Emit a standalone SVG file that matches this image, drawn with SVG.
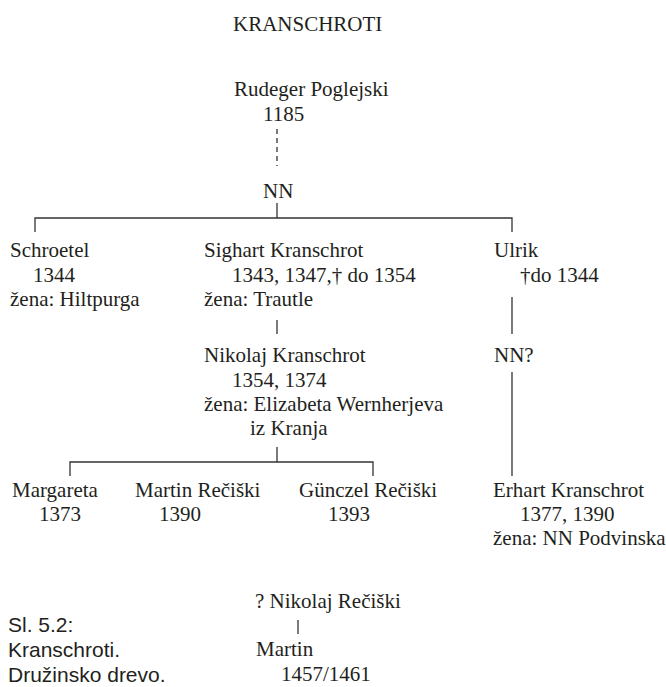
<svg xmlns="http://www.w3.org/2000/svg" width="666" height="687" viewBox="0 0 666 687">
<style>
text{font-family:"Liberation Serif","Times New Roman",serif;font-size:21px;fill:#231f20}
.cap{font-family:"Liberation Sans",Arial,sans-serif;font-size:21px;fill:#231f20}
.ln{stroke:#333;stroke-width:1.3;fill:none}
.dash{stroke-dasharray:5 4}
</style>
<rect width="666" height="687" fill="#fff"/>
<text id="title" x="233" y="31">KRANSCHROTI</text>
<g id="connectors">
<line class="ln dash" x1="277" y1="129" x2="277" y2="166"/>
<line class="ln" x1="277" y1="203" x2="277" y2="218"/>
<polyline class="ln" points="35,232 35,218 512,218 512,232"/>
<line class="ln" x1="277" y1="320" x2="277" y2="334"/>
<line class="ln" x1="512" y1="297" x2="512" y2="334"/>
<line class="ln" x1="277" y1="447" x2="277" y2="462"/>
<polyline class="ln" points="70,476 70,462 373,462 373,476"/>
<line class="ln" x1="512" y1="372" x2="512" y2="476"/>
<line class="ln" x1="298" y1="620" x2="298" y2="634"/>
</g>
<g id="rudeger"><text x="234" y="96">Rudeger Poglejski</text><text x="263" y="121">1185</text></g>
<g id="nn"><text x="263" y="198">NN</text></g>
<g id="schroetel"><text x="10" y="257">Schroetel</text><text x="33" y="282">1344</text><text x="10" y="306">žena: Hiltpurga</text></g>
<g id="sighart"><text x="204" y="257">Sighart Kranschrot</text><text x="232" y="282">1343, 1347,† do 1354</text><text x="204" y="306">žena: Trautle</text></g>
<g id="ulrik"><text x="494" y="257">Ulrik</text><text x="520" y="282">†do 1344</text></g>
<g id="nikolaj"><text x="204" y="362">Nikolaj Kranschrot</text><text x="232" y="387">1354, 1374</text><text x="204" y="411">žena: Elizabeta Wernherjeva</text><text x="250" y="435">iz Kranja</text></g>
<g id="nnq"><text x="494" y="362">NN?</text></g>
<g id="margareta"><text x="12" y="497">Margareta</text><text x="39" y="521">1373</text></g>
<g id="martin-r"><text x="135" y="497">Martin Rečiški</text><text x="159" y="521">1390</text></g>
<g id="gunczel"><text x="299" y="497">Günczel Rečiški</text><text x="328" y="521">1393</text></g>
<g id="erhart"><text x="493" y="497">Erhart Kranschrot</text><text x="520" y="521">1377, 1390</text><text x="493" y="545">žena: NN Podvinska</text></g>
<g id="nikolaj-r"><text x="255" y="608">? Nikolaj Rečiški</text></g>
<g id="martin"><text x="256" y="656">Martin</text><text x="281" y="681">1457/1461</text></g>
<g id="caption"><text class="cap" x="8" y="632">Sl. 5.2:</text><text class="cap" x="8" y="657">Kranschroti.</text><text class="cap" x="8" y="682">Družinsko drevo.</text></g>
</svg>
